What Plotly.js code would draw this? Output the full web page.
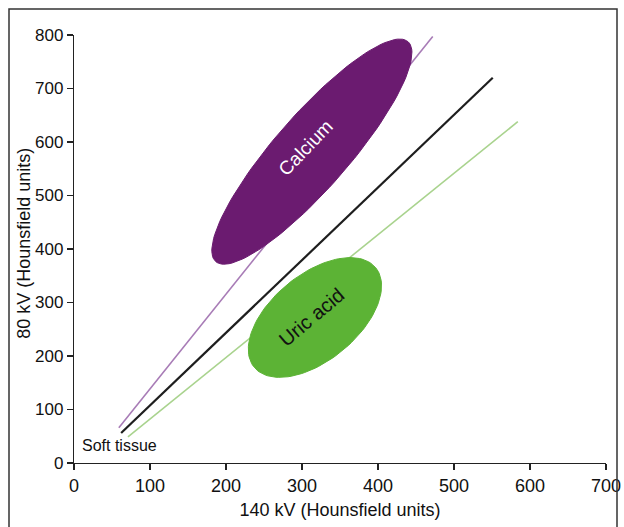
<!DOCTYPE html>
<html><head><meta charset="utf-8">
<script src="https://cdn.plot.ly/plotly-3.0.1.min.js"></script>
<style>html,body{margin:0;padding:0;background:#fff}#chart{width:624px;height:527px}</style>
</head><body><div id="chart"></div>
<script>
// Ratio lines (140 kV HU -> 80 kV HU)
const purpleLineX = [59, 472];
const purpleLineY = [66, 797];
const blackLineX = [62, 551];
const blackLineY = [56, 720];
const greenLineX = [71, 584];
const greenLineY = [49, 638];

// Material regions: centre, tip of long axis, width ratio
const calciumCenter = [313, 582];
const calciumTip = [439.5, 787.5];
const calciumRatio = 0.253;
const uricCenter = [317, 272];
const uricTip = [397, 365];
const uricRatio = 0.548;

const labels = ['Calcium', 'Uric acid', 'Soft tissue'];
const softTissuePos = [60, 32];
const xTitle = '140 kV (Hounsfield units)';
const yTitle = '80 kV (Hounsfield units)';

const xTicks = [0, 100, 200, 300, 400, 500, 600, 700];
const yTicks = [0, 100, 200, 300, 400, 500, 600, 700, 800];

const W = 624, H = 527;
const M = {l: 74, r: 18, t: 35, b: 64};
const plotW = W - M.l - M.r, plotH = H - M.t - M.b;
const kx = plotW / 700, ky = plotH / 800;

function ellipse(c, tip, ratio) {
  const ux = (tip[0] - c[0]) * kx, uy = (tip[1] - c[1]) * ky;
  const vx = -uy * ratio, vy = ux * ratio;
  const xs = [], ys = [];
  for (let i = 0; i <= 120; i++) {
    const t = 2 * Math.PI * i / 120;
    xs.push(c[0] + (Math.cos(t) * ux + Math.sin(t) * vx) / kx);
    ys.push(c[1] + (Math.cos(t) * uy + Math.sin(t) * vy) / ky);
  }
  return {xs, ys};
}
const ca = ellipse(calciumCenter, calciumTip, calciumRatio);
const ua = ellipse(uricCenter, uricTip, uricRatio);

const font = 'Liberation Sans, Arial, Helvetica, sans-serif';

const traces = [
  {x: purpleLineX, y: purpleLineY, mode: 'lines', line: {color: '#a87cb6', width: 1.6}, hoverinfo: 'skip'},
  {x: blackLineX, y: blackLineY, mode: 'lines', line: {color: '#1e1e1e', width: 2.2}, hoverinfo: 'skip'},
  {x: greenLineX, y: greenLineY, mode: 'lines', line: {color: '#a9d38e', width: 1.6}, hoverinfo: 'skip'},
  {x: ca.xs, y: ca.ys, mode: 'lines', fill: 'toself', fillcolor: '#6b1b70', line: {color: '#6b1b70', width: 1}, hoverinfo: 'skip'},
  {x: ua.xs, y: ua.ys, mode: 'lines', fill: 'toself', fillcolor: '#5cb335', line: {color: '#5cb335', width: 1}, hoverinfo: 'skip'}
];

const layout = {
  width: W, height: H,
  margin: M,
  showlegend: false,
  paper_bgcolor: '#fff', plot_bgcolor: '#fff',
  font: {family: font, color: '#111', size: 18},
  xaxis: {
    range: [0, 700], tickvals: xTicks, ticktext: xTicks.map(String),
    showgrid: false, zeroline: false, showline: true, linecolor: '#222', linewidth: 1.2,
    ticks: 'outside', ticklen: 6, tickcolor: '#222', tickwidth: 1.2,
    tickfont: {size: 18, family: font, color: '#111'},
    title: {text: xTitle, font: {size: 18, family: font, color: '#111'}, standoff: 8},
    automargin: false, fixedrange: true
  },
  yaxis: {
    range: [0, 800], tickvals: yTicks, ticktext: yTicks.map(String),
    showgrid: false, zeroline: false, showline: true, linecolor: '#222', linewidth: 1.2,
    ticks: 'outside', ticklen: 6, tickcolor: '#222', tickwidth: 1.2,
    tickfont: {size: 17, family: font, color: '#111'},
    automargin: false, fixedrange: true
  },
  shapes: [{
    type: 'rect', xref: 'paper', yref: 'paper',
    x0: (9 - M.l) / plotW, x1: (617 - M.l) / plotW,
    y0: -0.2, y1: (H - M.b - 9) / plotH,
    line: {color: '#333', width: 1.5}, fillcolor: 'rgba(0,0,0,0)'
  }],
  annotations: [
    {x: (24 - M.l) / plotW, y: 0.512, xref: 'paper', yref: 'paper', text: yTitle, showarrow: false,
     textangle: -90, xanchor: 'center', yanchor: 'middle', font: {size: 18, color: '#111', family: font}},
    {x: calciumCenter[0] - 8, y: calciumCenter[1] + 8, xref: 'x', yref: 'y', text: labels[0], showarrow: false,
     textangle: -46, font: {size: 19, color: '#ffffff', family: font}},
    {x: uricCenter[0] - 4, y: uricCenter[1], xref: 'x', yref: 'y', text: labels[1], showarrow: false,
     textangle: -40, font: {size: 20, color: '#111', family: font}},
    {x: softTissuePos[0], y: softTissuePos[1], xref: 'x', yref: 'y', text: labels[2], showarrow: false,
     font: {size: 16, color: '#111', family: font}}
  ]
};

Plotly.newPlot('chart', traces, layout, {displayModeBar: false, staticPlot: true});
</script>
</body></html>
